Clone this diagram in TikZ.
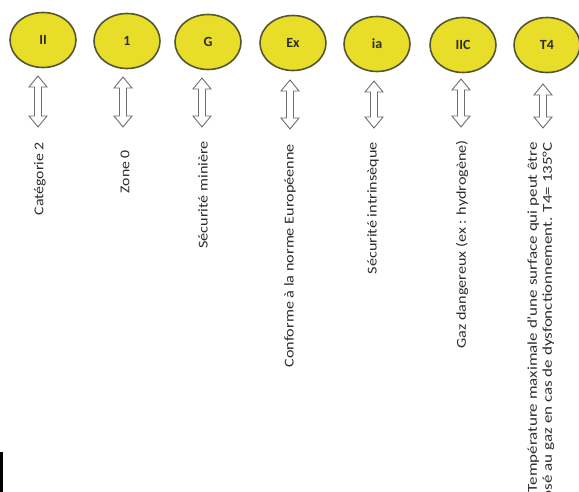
\documentclass[tikz,border=0pt]{standalone}
\usepackage{fontspec}
\setmainfont{Carlito}
\usepackage{graphicx}
\definecolor{ellfill}{RGB}{232,222,42}
\definecolor{elldraw}{RGB}{85,85,50}
\definecolor{txt}{RGB}{45,45,45}
\definecolor{arr}{RGB}{110,110,110}
\newcommand\hollowdarrow[3]{%
  \draw[arrowline] (#1,#2) -- ++(9,11) -- ++(-5.5,0) -- (#1+3.5,#3-11) -- ++(5.5,0) -- (#1,#3)
    -- ++(-9,-11) -- ++(5.5,0) -- (#1-3.5,#2+11) -- ++(-5.5,0) -- cycle;}
\tikzset{
  code/.style={ellipse, draw=elldraw, line width=1.6pt, fill=ellfill, minimum width=66pt, minimum height=55pt,
    inner sep=0pt, font=\fontsize{14}{14}\selectfont\bfseries, text=txt},
  arrowline/.style={draw=arr, line width=0.9pt, fill=white, line join=miter},
  vlabel/.style={rotate=90, anchor=east, inner sep=0pt, text=txt, font=\fontsize{13.5}{17}\selectfont, align=right}
}
\usetikzlibrary{shapes.geometric}
\begin{document}
\begin{tikzpicture}[x=1pt,y=-1pt]
\useasboundingbox (0,0) rectangle (579,492);
\clip (0,0) rectangle (579,492);
\fill[white] (0,0) rectangle (579,492);
% ellipses
\node[code] (e1) at (43,40) {II};
\node[code] (e2) at (127,41) {1};
\node[code] (e3) at (208,42) {G};
\node[code] (e4) at (293,43) {Ex};
\node[code] (e5) at (377,44) {ia};
\node[code] (e6) at (463,45) {IIC};
\node[code] (e7) at (547,45) {T4};
% double arrows
\hollowdarrow{38}{76}{127}
\hollowdarrow{123}{77}{127}
\hollowdarrow{202}{78}{127}
\hollowdarrow{290}{80}{129}
\hollowdarrow{374}{81}{128}
\hollowdarrow{461}{79}{127}
\hollowdarrow{543}{84}{128}
% labels
\node[vlabel] (t1) at (40,142) {\scalebox{1.17}[1]{Catégorie 2}};
\node[vlabel] (t2) at (125,150) {\scalebox{1.17}[1]{Zone 0}};
\node[vlabel] (t3) at (203,141) {\scalebox{1.2}[1]{Sécurité minière}};
\node[vlabel] (t4) at (290,144) {\scalebox{1.2}[1]{Conforme à la norme Européenne}};
\node[vlabel] (t5) at (373,142) {\scalebox{1.2}[1]{Sécurité intrinsèque}};
\node[vlabel] (t6) at (462,140) {\scalebox{1.2}[1]{Gaz dangereux (ex : hydrogène)}};
\node[vlabel] (t7) at (541,142) {\scalebox{1.26}[1]{\begin{tabular}{@{}r@{}}Température maximale d'une surface qui peut être\\[-2pt] exposé au gaz en cas de dysfonctionnement. T4= 135°C\end{tabular}}};
% black bar bottom left
\fill[black] (0,452) rectangle (3,492);
\end{tikzpicture}
\end{document}
